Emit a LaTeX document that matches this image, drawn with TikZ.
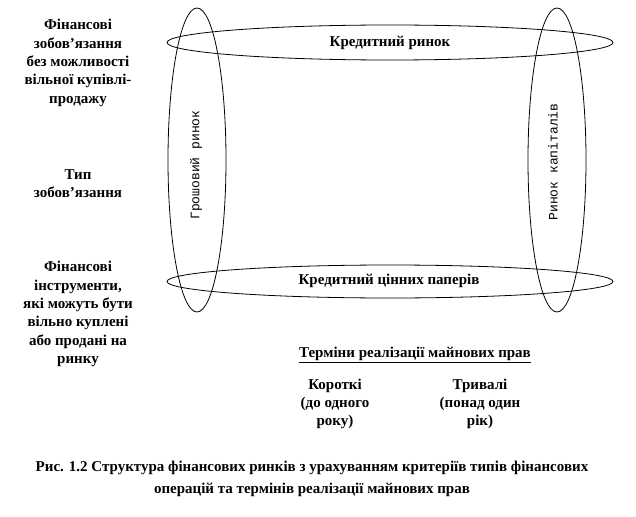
\documentclass[tikz,border=0pt]{standalone}
\usepackage{fontspec}
\setmainfont{Liberation Serif}
\newfontfamily\monofont{Liberation Mono}
\usetikzlibrary{shapes.geometric}
\begin{document}
\begin{tikzpicture}[x=1pt,y=-1pt,
  oval/.style={draw,ellipse,line width=0.8pt,inner sep=0pt},
  lbl/.style={font=\fontsize{15}{18.3}\selectfont\bfseries,align=center,inner sep=0pt},
  vlbl/.style={font=\fontsize{13}{14}\selectfont\monofont,rotate=90,inner sep=0pt}]
\useasboundingbox[fill=white] (0,0) rectangle (636,516);
% ovals
\node[oval,minimum width=58pt,minimum height=304pt] (left) at (197,160) {};
\node[oval,minimum width=58pt,minimum height=304pt] (right) at (557,160) {};
\node[oval,minimum width=446pt,minimum height=35pt] (top) at (390,42.5) {};
\node[oval,minimum width=446pt,minimum height=33pt] (bottom) at (390,281.5) {};
% oval labels
\node[lbl] (topt) at (390,43) {Кредитний ринок};
\node[lbl] (bott) at (389,281) {Кредитний цінних паперів};
\node[vlbl] (leftt) at (196,165) {Грошовий ринок};
\node[vlbl] (rightt) at (553,162) {Ринок капіталів};
% left texts
\node[lbl] (a) at (78,63) {Фінансові\\зобов’язання\\без можливості\\вільної купівлі-\\продажу};
\node[lbl] (b) at (78,184) {Тип\\зобов’язання};
\node[lbl] (c) at (78,314) {Фінансові\\інструменти,\\які можуть бути\\вільно куплені\\або продані на\\ринку};
% bottom texts
\node[lbl] (t) at (415,355) {\underline{Терміни реалізації майнових прав}};
\node[lbl] (k) at (335,404) {Короткі\\(до одного\\року)};
\node[lbl] (l) at (480,404) {Тривалі\\(понад один\\рік)};
% caption
\node[lbl,font=\fontsize{15}{22}\selectfont\bfseries] (cap) at (312,479) {Рис. 1.2 Структура фінансових ринків з урахуванням критеріїв типів фінансових\\операцій та термінів реалізації майнових прав};
\end{tikzpicture}
\end{document}
